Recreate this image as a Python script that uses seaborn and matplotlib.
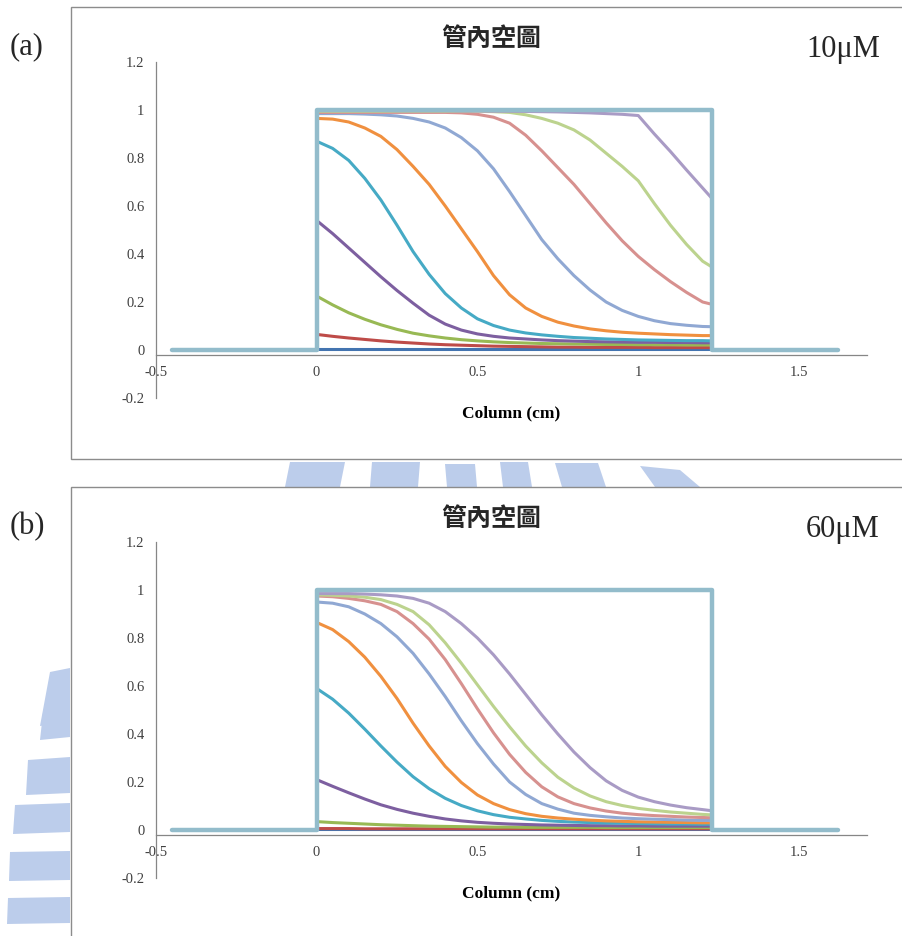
import numpy as np
import pandas as pd
import matplotlib
matplotlib.use("Agg")
import matplotlib.pyplot as plt
import seaborn as sns
from matplotlib.patches import Rectangle, Polygon

sns.set_style("white")
plt.rcParams['font.family'] = ['Liberation Serif', 'DejaVu Serif']

# ---- data ----
x_col = [0.0, 0.05, 0.1, 0.15, 0.2, 0.25, 0.3, 0.35, 0.4, 0.45, 0.5, 0.55, 0.6,
         0.65, 0.7, 0.75, 0.8, 0.85, 0.9, 0.95, 1.0, 1.05, 1.1, 1.15, 1.2, 1.23]

# box (initial loading profile)
box_x = [-0.45, 0.0, 0.0, 1.23, 1.23, 1.62]
box_y = [0.0, 0.0, 1.0, 1.0, 0.0, 0.0]

series_names = ['t1', 't2', 't3', 't4', 't5', 't6', 't7', 't8', 't9', 't10']

# (a) 10 uM
a_t1 = [0.004] * 26
a_t2 = [0.065, 0.057, 0.05, 0.044, 0.038, 0.033, 0.029, 0.025, 0.022, 0.02, 0.018, 0.016, 0.015,
        0.014, 0.013, 0.012, 0.012, 0.011, 0.011, 0.011, 0.011, 0.01, 0.01, 0.01, 0.01, 0.01]
a_t3 = [0.225, 0.188, 0.155, 0.128, 0.105, 0.086, 0.07, 0.059, 0.05, 0.043, 0.038, 0.034, 0.031,
        0.029, 0.027, 0.026, 0.025, 0.024, 0.023, 0.023, 0.022, 0.022, 0.022, 0.021, 0.021, 0.021]
a_t4 = [0.54, 0.485, 0.425, 0.365, 0.305, 0.248, 0.195, 0.145, 0.108, 0.083, 0.067, 0.057, 0.05,
        0.046, 0.042, 0.039, 0.037, 0.035, 0.034, 0.033, 0.032, 0.032, 0.031, 0.031, 0.03, 0.03]
a_t5 = [0.87, 0.84, 0.79, 0.715, 0.625, 0.52, 0.41, 0.315, 0.235, 0.175, 0.13, 0.102, 0.083,
        0.071, 0.063, 0.057, 0.052, 0.049, 0.046, 0.044, 0.042, 0.041, 0.04, 0.039, 0.039, 0.038]
a_t6 = [0.965, 0.962, 0.95, 0.925, 0.89, 0.835, 0.765, 0.69, 0.60, 0.505, 0.41, 0.31, 0.23,
        0.175, 0.14, 0.116, 0.10, 0.088, 0.08, 0.074, 0.07, 0.067, 0.064, 0.062, 0.06, 0.06]
a_t7 = [0.985, 0.985, 0.985, 0.983, 0.98, 0.975, 0.965, 0.95, 0.925, 0.885, 0.83, 0.755, 0.66,
        0.56, 0.46, 0.38, 0.31, 0.25, 0.20, 0.165, 0.14, 0.122, 0.11, 0.103, 0.098, 0.097]
a_t8 = [0.99, 0.99, 0.99, 0.99, 0.99, 0.99, 0.99, 0.99, 0.99, 0.988, 0.982, 0.97, 0.945,
        0.895, 0.83, 0.76, 0.69, 0.61, 0.53, 0.455, 0.39, 0.335, 0.285, 0.24, 0.20, 0.19]
a_t9 = [0.995, 0.995, 0.995, 0.995, 0.995, 0.995, 0.995, 0.995, 0.995, 0.995, 0.995, 0.993, 0.99,
        0.98, 0.965, 0.945, 0.917, 0.875, 0.82, 0.765, 0.705, 0.61, 0.52, 0.44, 0.37, 0.345]
a_t10 = [0.998, 0.998, 0.998, 0.998, 0.998, 0.997, 0.997, 0.997, 0.997, 0.996, 0.996, 0.995, 0.995,
         0.994, 0.993, 0.992, 0.99, 0.988, 0.985, 0.982, 0.977, 0.90, 0.827, 0.75, 0.675, 0.63]

# (b) 60 uM
b_t1 = [0.003] * 26
b_t2 = [0.006, 0.006, 0.006, 0.005, 0.005, 0.005, 0.005, 0.005, 0.005, 0.005, 0.005, 0.005, 0.005,
        0.005, 0.005, 0.005, 0.005, 0.005, 0.005, 0.005, 0.005, 0.005, 0.005, 0.005, 0.005, 0.005]
b_t3 = [0.035, 0.031, 0.028, 0.025, 0.022, 0.02, 0.018, 0.016, 0.015, 0.014, 0.013, 0.012, 0.012,
        0.011, 0.011, 0.011, 0.011, 0.011, 0.01, 0.01, 0.01, 0.01, 0.01, 0.01, 0.01, 0.01]
b_t4 = [0.21, 0.182, 0.155, 0.129, 0.105, 0.086, 0.07, 0.057, 0.046, 0.038, 0.032, 0.028, 0.025,
        0.023, 0.021, 0.02, 0.019, 0.018, 0.018, 0.017, 0.017, 0.016, 0.016, 0.016, 0.016, 0.016]
b_t5 = [0.59, 0.545, 0.487, 0.42, 0.35, 0.283, 0.222, 0.172, 0.132, 0.102, 0.08, 0.064, 0.053,
        0.046, 0.04, 0.036, 0.033, 0.031, 0.029, 0.028, 0.027, 0.026, 0.025, 0.025, 0.024, 0.024]
b_t6 = [0.865, 0.835, 0.785, 0.72, 0.64, 0.548, 0.445, 0.35, 0.265, 0.198, 0.146, 0.11, 0.085,
        0.068, 0.057, 0.05, 0.045, 0.041, 0.038, 0.036, 0.034, 0.033, 0.032, 0.031, 0.03, 0.03]
b_t7 = [0.95, 0.945, 0.93, 0.90, 0.86, 0.805, 0.736, 0.65, 0.556, 0.455, 0.36, 0.275, 0.20,
        0.148, 0.11, 0.087, 0.07, 0.061, 0.055, 0.05, 0.047, 0.045, 0.043, 0.041, 0.04, 0.04]
b_t8 = [0.975, 0.972, 0.965, 0.955, 0.94, 0.91, 0.86, 0.795, 0.71, 0.61, 0.505, 0.405, 0.315,
        0.24, 0.18, 0.138, 0.11, 0.092, 0.079, 0.07, 0.064, 0.06, 0.057, 0.054, 0.052, 0.051]
b_t9 = [0.98, 0.978, 0.975, 0.97, 0.96, 0.94, 0.91, 0.855, 0.78, 0.695, 0.605, 0.515, 0.43,
        0.35, 0.28, 0.22, 0.175, 0.142, 0.118, 0.102, 0.09, 0.082, 0.075, 0.07, 0.065, 0.063]
b_t10 = [0.985, 0.985, 0.985, 0.983, 0.98, 0.975, 0.965, 0.945, 0.91, 0.86, 0.80, 0.73, 0.65,
         0.565, 0.48, 0.40, 0.325, 0.26, 0.205, 0.165, 0.137, 0.118, 0.104, 0.093, 0.085, 0.08]

panels = [
    ('(a)', '10μM', [a_t1, a_t2, a_t3, a_t4, a_t5, a_t6, a_t7, a_t8, a_t9, a_t10]),
    ('(b)', '60μM', [b_t1, b_t2, b_t3, b_t4, b_t5, b_t6, b_t7, b_t8, b_t9, b_t10]),
]

colors = ['#4374B0', '#BE4B48', '#98B954', '#7D5FA0', '#46AAC5', '#F0903F',
          '#90A8D3', '#D7918F', '#BCD38E', '#A99BC5']
box_color = '#93BCCB'

x_ticks = [-0.5, 0, 0.5, 1, 1.5]
x_ticklabels = ['-0.5', '0', '0.5', '1', '1.5']
y_ticks = [-0.2, 0, 0.2, 0.4, 0.6, 0.8, 1.0, 1.2]
y_ticklabels = ['-0.2', '0', '0.2', '0.4', '0.6', '0.8', '1', '1.2']

# faint watermark pieces behind the charts (pixel coords of the page)
wm_color = '#BCCDEB'
wm_shapes = [
    [(290, 462), (345, 462), (340, 487), (285, 487)],
    [(372, 462), (420, 462), (418, 487), (370, 487)],
    [(445, 464), (475, 464), (477, 487), (447, 487)],
    [(500, 462), (528, 462), (532, 487), (503, 487)],
    [(555, 463), (598, 463), (606, 487), (562, 487)],
    [(640, 466), (680, 470), (700, 487), (655, 487)],
    [(50, 672), (70, 668), (70, 722), (40, 726)],
    [(43, 713), (70, 711), (70, 737), (40, 740)],
    [(28, 760), (70, 757), (70, 793), (26, 795)],
    [(15, 805), (70, 803), (70, 832), (13, 834)],
    [(10, 852), (70, 851), (70, 880), (9, 881)],
    [(8, 898), (70, 897), (70, 923), (7, 924)],
]

W, H = 902, 936
fig = plt.figure(figsize=(W / 100, H / 100), dpi=100)
fig.patch.set_facecolor('white')

for pts in wm_shapes:
    fig.add_artist(Polygon([(px / W, 1 - py / H) for px, py in pts], closed=True,
                           transform=fig.transFigure, fc=wm_color, ec='none',
                           zorder=-3))

for i, (tag, conc, curves) in enumerate(panels):
    off = 480 * i
    # chart frame (white, behind the axes)
    fig.add_artist(Rectangle((70.5 / W, 1 - (459 + off) / H), 1.0, 452 / H,
                             transform=fig.transFigure, fc='white',
                             ec='#8c8c8c', lw=1.0, zorder=-2))

    ax = fig.add_axes([155.7 / W, 1 - (398 + off) / H, 711 / W, 336 / H])

    long = pd.DataFrame({
        'x': np.tile(x_col, len(curves)),
        'y': np.concatenate(curves),
        'series': np.repeat(series_names, len(x_col)),
    })
    sns.lineplot(data=long, x='x', y='y', hue='series', palette=colors,
                 hue_order=series_names, estimator=None, sort=False,
                 linewidth=2.2, legend=False, ax=ax)
    box = pd.DataFrame({'x': box_x, 'y': box_y})
    sns.lineplot(data=box, x='x', y='y', color=box_color, estimator=None,
                 sort=False, linewidth=3.2, ax=ax)

    ax.set_xlim(-0.5, 1.71)
    ax.set_ylim(-0.2, 1.2)
    ax.set_xticks(x_ticks)
    ax.set_xticklabels(x_ticklabels)
    ax.set_yticks(y_ticks)
    ax.set_yticklabels(y_ticklabels)
    ax.tick_params(axis='both', direction='out', length=4, width=0.8,
                   color='#868686', labelcolor='#404040', labelsize=10.5, pad=4)
    for s in ['top', 'right']:
        ax.spines[s].set_visible(False)
    for s in ['left', 'bottom']:
        ax.spines[s].set_color('#868686')
        ax.spines[s].set_linewidth(0.9)
    ax.spines['bottom'].set_position(('data', -0.02))
    ax.set_ylabel('')
    ax.set_xlabel('Column (cm)', fontsize=12.5, fontweight='bold', color='black')
    ax.xaxis.set_label_coords(0.5, -0.022)
    ax.patch.set_alpha(0)

    fig.text(491 / W, 1 - (39 + off) / H, '管內空圖', ha='center', va='center',
             fontsize=18, fontweight='bold',
             family=['Noto Sans CJK TC', 'DejaVu Sans'])
    fig.text(843 / W, 1 - (57 + off) / H, conc, ha='center', va='baseline',
             fontsize=22)
    fig.text(10 / W, 1 - (54 + off) / H, tag, ha='left', va='baseline',
             fontsize=22)

fig.savefig('out.png', dpi=100)
